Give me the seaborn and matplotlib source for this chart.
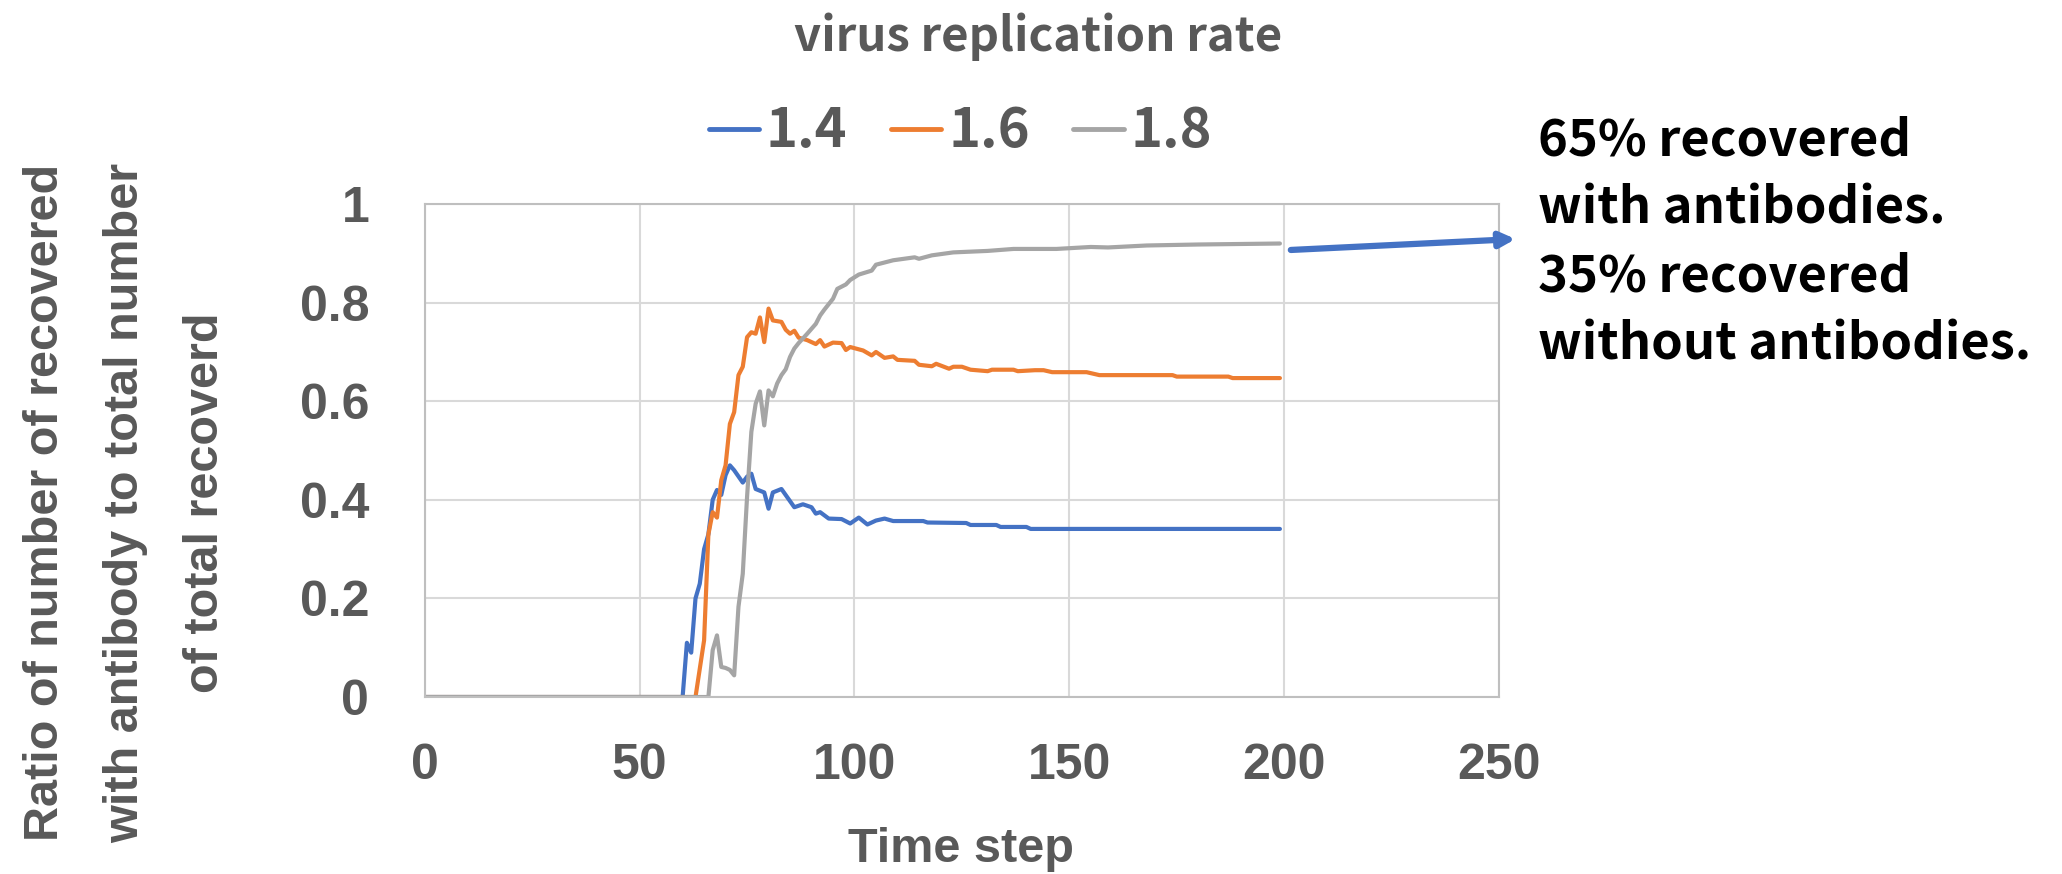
import pandas as pd
import matplotlib.pyplot as plt
import seaborn as sns

# time step / ratio values, one pair of lists per replication rate
t_14 = [0, 60, 61, 62, 63, 64, 65, 66, 67, 68, 69, 70, 71, 72, 74, 75, 76, 77, 79, 80, 81, 83,
        86, 88, 90, 91, 92, 94, 97, 99, 101, 103, 105, 107, 109, 116, 117, 126, 127, 133, 134,
        140, 141, 199]
v_14 = [0, 0, 0.11, 0.09, 0.20, 0.23, 0.30, 0.33, 0.40, 0.42, 0.41, 0.45, 0.47, 0.46, 0.435,
        0.447, 0.453, 0.422, 0.415, 0.382, 0.415, 0.422, 0.385, 0.391, 0.385, 0.372, 0.375,
        0.362, 0.361, 0.352, 0.364, 0.350, 0.358, 0.362, 0.357, 0.357, 0.354, 0.353, 0.349,
        0.349, 0.345, 0.345, 0.341, 0.341]

t_16 = [0, 63, 65, 66, 67, 68, 69, 70, 71, 72, 73, 74, 75, 76, 77, 78, 79, 80, 81, 83, 84, 85,
        86, 87, 89, 91, 92, 93, 95, 97, 98, 99, 102, 104, 105, 107, 109, 110, 114, 115, 118,
        119, 122, 123, 125, 127, 131, 132, 137, 138, 142, 144, 146, 154, 157, 174, 175, 187,
        188, 199]
v_16 = [0, 0, 0.115, 0.33, 0.375, 0.364, 0.44, 0.47, 0.554, 0.578, 0.653, 0.67, 0.73, 0.74,
        0.737, 0.77, 0.72, 0.788, 0.764, 0.761, 0.745, 0.737, 0.743, 0.729, 0.724, 0.716,
        0.724, 0.711, 0.719, 0.718, 0.704, 0.710, 0.703, 0.693, 0.700, 0.688, 0.691, 0.684,
        0.682, 0.674, 0.671, 0.676, 0.666, 0.670, 0.670, 0.664, 0.661, 0.664, 0.664, 0.661,
        0.663, 0.663, 0.659, 0.659, 0.653, 0.653, 0.650, 0.650, 0.647, 0.647]

t_18 = [0, 66, 67, 68, 69, 70, 71, 72, 73, 74, 75, 76, 77, 78, 79, 80, 81, 82, 83, 84, 85, 86,
        87, 89, 91, 92, 93, 95, 96, 98, 99, 101, 104, 105, 109, 114, 115, 118, 123, 131, 137,
        147, 155, 159, 168, 180, 199]
v_18 = [0, 0, 0.095, 0.125, 0.061, 0.059, 0.055, 0.044, 0.183, 0.25, 0.406, 0.538, 0.595,
        0.62, 0.551, 0.622, 0.61, 0.636, 0.653, 0.665, 0.69, 0.707, 0.718, 0.737, 0.757,
        0.774, 0.786, 0.808, 0.828, 0.837, 0.846, 0.857, 0.865, 0.877, 0.886, 0.892, 0.889,
        0.896, 0.902, 0.905, 0.909, 0.909, 0.913, 0.912, 0.916, 0.918, 0.920]

rates = ['1.4', '1.6', '1.8']
colors = ['#4472C4', '#ED7D31', '#A5A5A5']
x_ticks = [0, 50, 100, 150, 200, 250]
y_ticks = [0, 0.2, 0.4, 0.6, 0.8, 1]

df = pd.concat([
    pd.DataFrame({'step': t_14, 'ratio': v_14, 'rate': '1.4'}),
    pd.DataFrame({'step': t_16, 'ratio': v_16, 'rate': '1.6'}),
    pd.DataFrame({'step': t_18, 'ratio': v_18, 'rate': '1.8'}),
])

sns.set_style('white')
plt.rcParams['font.family'] = ['Liberation Sans', 'DejaVu Sans']
grey = '#595959'
jp = ['Noto Sans CJK JP', 'DejaVu Sans']

fig = plt.figure(figsize=(20.62, 8.74), dpi=100)
ax = fig.add_axes([0.206, 0.2025, 0.521, 0.564])

sns.lineplot(data=df, x='step', y='ratio', hue='rate', hue_order=rates,
             palette=colors, linewidth=3.0, ax=ax, sort=False, estimator=None)

ax.set_xlim(0, 250)
ax.set_ylim(0, 1)
ax.set_xticks(x_ticks)
ax.set_yticks(y_ticks)
ax.set_xticklabels([str(v) for v in x_ticks])
ax.set_yticklabels(['0', '0.2', '0.4', '0.6', '0.8', '1'])
ax.grid(True, color='#d9d9d9', linewidth=1.5)
ax.set_axisbelow(True)
for s in ax.spines.values():
    s.set_color('#bfbfbf')
    s.set_linewidth(1.5)
ax.tick_params(axis='both', length=0, labelsize=36, colors=grey)
ax.tick_params(axis='x', pad=33)
ax.tick_params(axis='y', pad=40)
for lab in ax.get_xticklabels() + ax.get_yticklabels():
    lab.set_fontweight('bold')

ax.set_xlabel('')
ax.set_ylabel('')
fig.text(0.466, 0.028, 'Time step', ha='center', va='center', fontsize=35,
         fontweight='bold', color=grey)
fig.text(0.061, 0.425,
         'Ratio of number of recovered\nwith antibody to total number\nof total recoverd',
         rotation=90, ha='center', va='center', multialignment='center',
         fontsize=35, fontweight='bold', color=grey, linespacing=2.0)

fig.text(0.5036, 0.958, 'virus replication rate', ha='center', va='center',
         fontsize=34, fontweight='bold', color=grey, family=jp)

leg = ax.legend(loc='center', bbox_to_anchor=(0.4657, 0.849), bbox_transform=fig.transFigure,
                ncol=3, frameon=False, handlelength=0.93, handletextpad=0.13,
                columnspacing=0.8, prop=dict(family=jp, size=39, weight='bold'))
for txt in leg.get_texts():
    txt.set_color(grey)
for line in leg.get_lines():
    line.set_linewidth(3.5)
    line.set_solid_capstyle('round')

fig.text(0.746, 0.722,
         '65% recovered\nwith antibodies.\n35% recovered\nwithout antibodies.',
         ha='left', va='center', fontsize=36.5, fontweight='bold', color='black',
         family=jp, linespacing=1.42)

ax.annotate('', xy=(0.735, 0.7265), xytext=(0.626, 0.714),
            xycoords='figure fraction', textcoords='figure fraction',
            arrowprops=dict(arrowstyle='-|>,head_length=0.9,head_width=0.45',
                            color='#4472C4', lw=4.5, shrinkA=0, shrinkB=0))

fig.savefig('out.png', dpi=100)
